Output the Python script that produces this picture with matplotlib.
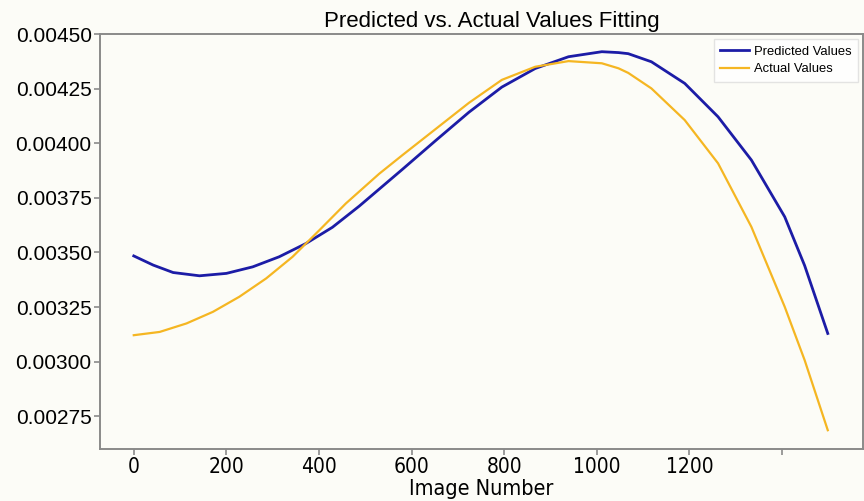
import numpy as np
import matplotlib
matplotlib.use("Agg")
import matplotlib.pyplot as plt

# values
pred_x = [0, 42, 85, 142, 200, 257, 314, 372, 429, 487, 580, 652, 724, 795,
          867, 939, 1011, 1047, 1068, 1118, 1190, 1262, 1334, 1406, 1449, 1499]
pred_y = [0.003484, 0.003442, 0.003408, 0.003393, 0.003404, 0.003434,
          0.003480, 0.003541, 0.003615, 0.003712, 0.003880, 0.004012,
          0.004142, 0.004257, 0.004342, 0.004396, 0.004419, 0.004415,
          0.004410, 0.004373, 0.004274, 0.004121, 0.003923, 0.003663,
          0.003440, 0.003129]

act_x = [0, 56, 114, 171, 228, 286, 343, 401, 458, 530, 580, 652, 724, 795,
         867, 939, 1011, 1047, 1068, 1118, 1190, 1262, 1334, 1406, 1449, 1499]
act_y = [0.003121, 0.003136, 0.003175, 0.003228, 0.003297, 0.003381,
         0.003480, 0.003602, 0.003724, 0.003860, 0.003945, 0.004065,
         0.004185, 0.004290, 0.004350, 0.004376, 0.004366, 0.004343,
         0.004322, 0.004251, 0.004106, 0.003908, 0.003617, 0.003251,
         0.003007, 0.002686]

x_ticks = [0, 200, 400, 600, 800, 1000, 1200, 1400]
x_tick_labels = ["0", "200", "400", "600", "800", "1000", "1200", ""]
y_ticks = [0.00275, 0.00300, 0.00325, 0.00350, 0.00375, 0.00400, 0.00425, 0.00450]

bg = "#fcfcf7"
spine_col = "#8a8a8a"
narrow = dict(family="DejaVu Sans", stretch="condensed")

fig = plt.figure(figsize=(8.64, 5.01), dpi=100, facecolor=bg)
ax = fig.add_axes([0.1157, 0.1038, 0.8831, 0.8283], facecolor=bg)

ax.plot(pred_x, pred_y, color="#1c1ca6", lw=2.0, solid_joinstyle="round",
        label="Predicted Values")
ax.plot(act_x, act_y, color="#f5b622", lw=1.6, solid_joinstyle="round",
        label="Actual Values")

ax.set_xlim(-73, 1575)
ax.set_ylim(0.0026, 0.0045)

ax.set_xticks(x_ticks)
ax.set_xticklabels(x_tick_labels, fontsize=15, **narrow)
ax.set_yticks(y_ticks)
ax.set_yticklabels(["%.5f" % v for v in y_ticks], family="Liberation Sans", fontsize=15)

for s in ax.spines.values():
    s.set_color(spine_col)
    s.set_linewidth(1.4)
ax.tick_params(colors=spine_col, labelcolor="black", length=4, width=1.2, pad=2)

ax.set_xlabel("Image Number", fontsize=15.5, labelpad=1, **narrow)
ax.set_title("Predicted vs. Actual Values Fitting", family="Liberation Sans",
             fontsize=16, pad=5, x=0.513)

leg = ax.legend(loc="upper right", prop={"family": "Liberation Sans", "size": 9.4},
                frameon=True, fancybox=False, handlelength=2.2, handletextpad=0.35,
                borderpad=0.5, labelspacing=0.4, borderaxespad=0.4)
leg.get_frame().set_edgecolor("#dddddd")
leg.get_frame().set_facecolor("white")

fig.savefig("out.png", dpi=100, facecolor=bg)
